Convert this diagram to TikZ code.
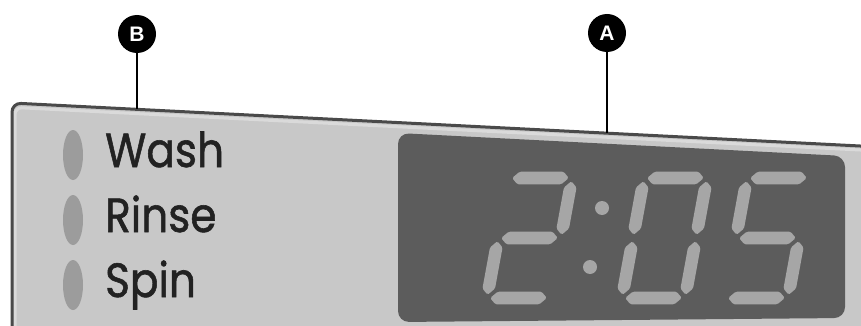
\documentclass[tikz,border=0pt]{standalone}
\usepackage{fontspec}
\setmainfont{Poppins}
\newfontfamily\labelfont{Poppins}[FakeBold=1.2]
\newfontfamily\callfont{Liberation Sans}
\definecolor{panelgray}{HTML}{C8C8C8}
\definecolor{bordergray}{HTML}{4A4A4A}
\definecolor{highgray}{HTML}{DADADA}
\definecolor{dispgray}{HTML}{5C5C5C}
\definecolor{seggray}{HTML}{A6A6A6}
\definecolor{ledgray}{HTML}{9C9C9C}
\definecolor{textgray}{HTML}{222222}
\def\seghalf{6.3}
\def\seggap{3.2}
\newcommand\hseg[3]{\fill[seg] (#1,#3) -- (#1+\seghalf,#3-\seghalf) -- (#2-\seghalf,#3-\seghalf) -- (#2,#3) -- (#2-\seghalf,#3+\seghalf) -- (#1+\seghalf,#3+\seghalf) -- cycle;}
\newcommand\vseg[3]{\fill[seg] (#1,#2) -- (#1+\seghalf,#2+\seghalf) -- (#1+\seghalf,#3-\seghalf) -- (#1,#3) -- (#1-\seghalf,#3-\seghalf) -- (#1-\seghalf,#2+\seghalf) -- cycle;}
% segments of a digit cell 63 wide, 120 high (local y downwards, 0 = bottom)
\newcommand\sega{\hseg{\seggap}{63-\seggap}{-120}}
\newcommand\segb{\vseg{63}{-120+\seggap}{-60-\seggap}}
\newcommand\segc{\vseg{63}{-60+\seggap}{-\seggap}}
\newcommand\segd{\hseg{\seggap}{63-\seggap}{0}}
\newcommand\sege{\vseg{0}{-60+\seggap}{-\seggap}}
\newcommand\segf{\vseg{0}{-120+\seggap}{-60-\seggap}}
\newcommand\segg{\hseg{\seggap}{63-\seggap}{-60}}
\begin{document}
\begin{tikzpicture}[x=1pt,y=-1pt,
  seg/.style={fill=seggray, rounded corners=1.5pt},
  callout/.style={circle, fill=black, minimum size=38pt, inner sep=0pt, text=white,
    font=\callfont\bfseries\fontsize{21}{21}\selectfont},
  leader/.style={line width=2.7pt, draw=black},
  ledstyle/.style={fill=ledgray},
  panellabel/.style={anchor=base west, inner sep=0pt, text=textgray, xscale=0.88,
    font=\labelfont\fontsize{48}{48}\selectfont},
  digitcell/.style={xslant=0.183}]
\useasboundingbox (0,0) rectangle (861,326);
\clip (0,0) rectangle (861,326);
% panel
\fill[panelgray, rounded corners=9pt] (12,340) -- (12,103) -- (870,146.5) -- (870,340) -- cycle;
\draw[highgray, line width=3pt, rounded corners=7pt] (15,340) -- (15,107.5) -- (870,150.5);
\draw[bordergray, line width=3pt, rounded corners=9pt] (12,340) -- (12,103) -- (870,146.5);
% LEDs
\fill[ledstyle] (73,155) ellipse [x radius=10, y radius=25];
\fill[ledstyle] (73,220) ellipse [x radius=10, y radius=25];
\fill[ledstyle] (73,285) ellipse [x radius=10, y radius=25];
% labels
\node[panellabel] (wash) at (105,167) {Wash};
\node[panellabel] (rinse) at (105,232) {Rinse};
\node[panellabel] (spin) at (105,297) {Spin};
% display
\fill[dispgray, rounded corners=11pt] (398,133) -- (845,156) -- (845,318) -- (398,322) -- cycle;
% digit 2
\begin{scope}[shift={(487,298)}, digitcell]
\sega \segb \segg \sege \segd
\end{scope}
% colon
\fill[seggray] (602,208) circle [radius=7];
\fill[seggray] (590,267) circle [radius=7];
% digit 0
\begin{scope}[shift={(622,298)}, digitcell]
\sega \segb \segc \segd \sege \segf
\end{scope}
% digit 5
\begin{scope}[shift={(725,298)}, digitcell]
\sega \segf \segg \segc \segd
\end{scope}
% callouts
\node[callout] (B) at (137,34) {B};
\node[callout] (A) at (607,33) {A};
\coordinate (Bend) at (137,109);
\coordinate (Aend) at (607,133);
\draw[leader] (B.south) -- (Bend);
\draw[leader] (A.south) -- (Aend);
\end{tikzpicture}
\end{document}
